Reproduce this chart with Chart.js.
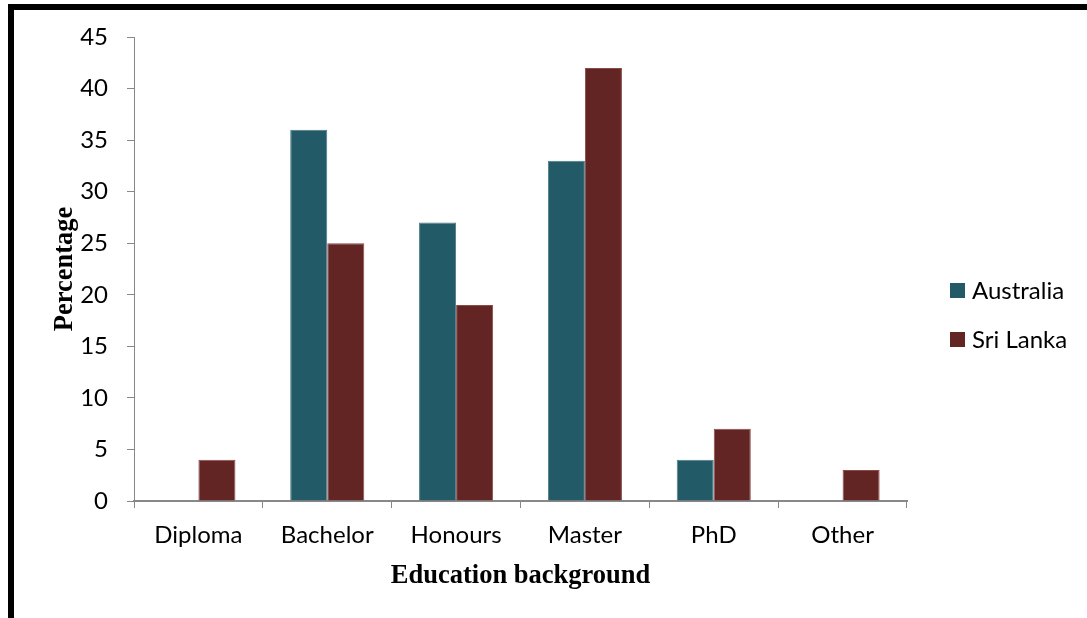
<!DOCTYPE html>
<html>
<head>
<meta charset="utf-8">
<script src="https://cdn.jsdelivr.net/npm/chart.js@4.4.1/dist/chart.umd.min.js"></script>
<style>
  html, body { margin: 0; padding: 0; background: #fff; }
  #wrap { position: relative; width: 1087px; height: 618px; overflow: hidden; }
  #frame {
    position: absolute; left: 8px; top: 4px; width: 1200px; height: 700px;
    border-top: 6px solid #000; border-left: 6px solid #000; box-sizing: border-box;
    pointer-events: none;
  }
  canvas { position: absolute; left: 0; top: 0; }
</style>
</head>
<body>
<div id="wrap">
  <canvas id="chart" width="1087" height="618"></canvas>
  <div id="frame"></div>
</div>
<script>
// Education background of respondents, by country (percent)
const categories = ['Diploma', 'Bachelor', 'Honours', 'Master', 'PhD', 'Other'];
const australia = [0, 36, 27, 33, 4, 0];
const sriLanka = [4, 25, 19, 42, 7, 3];
const yTicks = [0, 5, 10, 15, 20, 25, 30, 35, 40, 45];

const tickFont = { family: 'Lato, "Open Sans", sans-serif', size: 24 };
const titleFont = { family: '"Liberation Serif", "Times New Roman", serif', size: 26.5, weight: 'bold' };

// Legend drawn at the right of the plot, one swatch per dataset
const sideLegend = {
  id: 'sideLegend',
  afterDraw(chart) {
    const ctx = chart.ctx;
    ctx.save();
    ctx.font = '24px Lato, "Open Sans", sans-serif';
    ctx.textBaseline = 'middle';
    ctx.textAlign = 'left';
    chart.data.datasets.forEach((ds, i) => {
      const y = 283 + i * 49;
      ctx.fillStyle = ds.backgroundColor;
      ctx.fillRect(950, y, 15, 15);
      ctx.fillStyle = '#000';
      ctx.fillText(ds.label, 972, y + 8);
    });
    ctx.restore();
  }
};

new Chart(document.getElementById('chart'), {
  type: 'bar',
  data: {
    labels: categories,
    datasets: [
      { label: 'Australia', data: australia, backgroundColor: '#235a68', borderColor: '#4d7b87', borderWidth: 1 },
      { label: 'Sri Lanka', data: sriLanka, backgroundColor: '#632524', borderColor: '#8a4a48', borderWidth: 1 }
    ]
  },
  options: {
    responsive: false,
    animation: false,
    events: [],
    layout: { padding: { left: 49, right: 180, top: 37, bottom: 26 } },
    datasets: { bar: { categoryPercentage: 0.575, barPercentage: 1 } },
    plugins: { legend: { display: false }, tooltip: { enabled: false } },
    scales: {
      x: {
        offset: true,
        grid: { offset: true, drawOnChartArea: false, tickLength: 7, color: '#888', lineWidth: 1 },
        border: { color: '#888', width: 2 },
        ticks: { font: tickFont, color: '#000', padding: 13, maxRotation: 0 },
        title: { display: true, text: 'Education background', font: titleFont, color: '#000', padding: 0 },
        afterFit(scale) { scale.height = 618 - 26 - 501; }
      },
      y: {
        min: 0, max: 45,
        afterBuildTicks(scale) { scale.ticks = yTicks.map(v => ({ value: v })); },
        grid: { drawOnChartArea: false, tickLength: 7, color: '#888', lineWidth: 1 },
        border: { color: '#888', width: 1 },
        ticks: { font: tickFont, color: '#000', padding: 19 },
        title: { display: true, text: 'Percentage', font: titleFont, color: '#000', padding: 0 },
        afterFit(scale) { scale.width = 134 - 49; }
      }
    }
  },
  plugins: [sideLegend]
});
</script>
</body>
</html>
